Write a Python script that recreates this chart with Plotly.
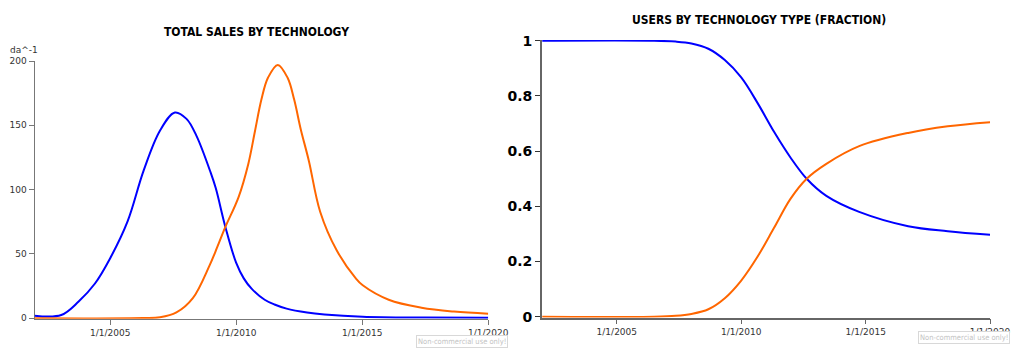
import pandas as pd
import plotly.graph_objects as go

# ---------------- data ----------------
sales_blue_years = [2002.0, 2003.06, 2003.75, 2004.39, 2005.0, 2005.69, 2006.33, 2006.98, 2007.57,
                    2008.03, 2008.42, 2008.99, 2009.19, 2009.57, 2010.0, 2010.3, 2010.61, 2011.13,
                    2011.52, 2012.0, 2012.81, 2013.5, 2015.02, 2017.5, 2020.0]
sales_blue = [2, 2.5, 13, 26.8, 46.7, 75.3, 115, 146, 160, 155, 142, 113, 101, 71, 43, 31, 23,
              14.4, 10.7, 7.5, 4.5, 3, 1.2, 0.5, 0.3]

sales_orange_years = [2002.0, 2006.3, 2006.98, 2007.63, 2008.28, 2008.93, 2009.25, 2009.57, 2010.09,
                      2010.48, 2010.74, 2011.0, 2011.26, 2011.65, 2012.04, 2012.3, 2012.56, 2012.88,
                      2013.33, 2013.98, 2014.76, 2015.02, 2016.05, 2017.35, 2018.64, 2020.0]
sales_orange = [0, 0.1, 0.7, 4.5, 15.6, 40.5, 55.4, 71, 94, 120, 145, 170, 187, 197, 187, 170, 147,
                122.5, 82.8, 53, 30.6, 25.6, 14.4, 8.2, 5.2, 3.5]

users_years = [2002.0, 2006.5, 2007.37, 2008.0, 2008.68, 2009.34, 2010.0, 2010.66, 2011.32, 2011.98,
               2012.63, 2013.42, 2014.74, 2016.71, 2018.3, 2020.0]
users_blue = [1.0, 1.0, 0.997, 0.99, 0.971, 0.93, 0.867, 0.774, 0.67, 0.577, 0.5, 0.438, 0.38,
              0.328, 0.31, 0.297]
users_orange = [0.0, 0.0, 0.003, 0.01, 0.027, 0.067, 0.131, 0.218, 0.322, 0.427, 0.5, 0.554, 0.618,
                0.666, 0.69, 0.705]

tick_years = [2005, 2010, 2015, 2020]
tick_labels = ["1/1/2005", "1/1/2010", "1/1/2015", "1/1/2020"]
left_y_ticks = [0, 50, 100, 150, 200]
right_y_ticks = [0, 0.2, 0.4, 0.6, 0.8, 1]
right_y_labels = ["0", "0.2", "0.4", "0.6", "0.8", "1"]


def to_date(y):
    yi = int(y)
    start = pd.Timestamp(year=yi, month=1, day=1)
    end = pd.Timestamp(year=yi + 1, month=1, day=1)
    return start + (end - start) * (y - yi)


def dates(lst):
    return [to_date(v) for v in lst]


BLUE = "#0000ff"
ORANGE = "#ff6600"
# the figure fills the window minus the browser's default 8px body margin
OFF = 8
W, H = 1020 - 2 * OFF, 356 - 2 * OFF


def px(x):  # window pixel x -> paper fraction
    return (x - OFF) / W


def py(y):  # window pixel y (from top) -> paper fraction
    return 1 - (y - OFF) / H


LINE = dict(width=2, shape="spline", smoothing=1.0)

fig = go.Figure()
fig.add_trace(go.Scatter(x=dates(sales_blue_years), y=sales_blue, mode="lines",
                         line=dict(color=BLUE, **LINE), xaxis="x", yaxis="y", showlegend=False))
fig.add_trace(go.Scatter(x=dates(sales_orange_years), y=sales_orange, mode="lines",
                         line=dict(color=ORANGE, **LINE), xaxis="x", yaxis="y", showlegend=False))
fig.add_trace(go.Scatter(x=dates(users_years), y=users_blue, mode="lines",
                         line=dict(color=BLUE, **LINE), xaxis="x2", yaxis="y2", showlegend=False))
fig.add_trace(go.Scatter(x=dates(users_years), y=users_orange, mode="lines",
                         line=dict(color=ORANGE, **LINE), xaxis="x2", yaxis="y2", showlegend=False))

xr = [to_date(2002.0), to_date(2020.0)]
tickvals = [to_date(y) for y in tick_years]
small_font = dict(family="DejaVu Sans, Verdana, sans-serif", size=9, color="#333333")

fig.update_layout(
    autosize=True,
    margin=dict(l=0, r=0, t=0, b=0),
    paper_bgcolor="#ffffff", plot_bgcolor="#ffffff",
    xaxis=dict(domain=[px(35.1), px(498)], range=xr, tickvals=tickvals, ticktext=tick_labels,
               showgrid=False, zeroline=False, showline=True, linecolor="#777777", linewidth=1,
               ticks="outside", ticklen=5, tickcolor="#777777", tickfont=small_font,
               anchor="y", layer="below traces"),
    yaxis=dict(domain=[py(324.8), py(56)], range=[-0.4, 200], tickvals=left_y_ticks,
               showgrid=False, zeroline=False, showline=True, linecolor="#777777", linewidth=1,
               ticks="outside", ticklen=5, tickcolor="#777777", tickfont=small_font,
               anchor="x", layer="below traces"),
    xaxis2=dict(domain=[px(553), px(1010)], range=xr, tickvals=tickvals, ticktext=tick_labels,
                showgrid=False, zeroline=False, showline=True, linecolor="#666666", linewidth=1.5,
                ticks="outside", ticklen=5, tickcolor="#666666", tickfont=small_font,
                anchor="y2", layer="below traces"),
    yaxis2=dict(domain=[py(323.5), py(34)], range=[-0.003, 1.003], tickvals=right_y_ticks,
                ticktext=right_y_labels,
                showgrid=False, zeroline=False, showline=True, linecolor="#666666", linewidth=2,
                ticks="outside", ticklen=5, tickcolor="#333333",
                tickfont=dict(family="DejaVu Sans, Verdana, sans-serif", size=14, color="#000000",
                              weight="bold"),
                anchor="x2", layer="below traces"),
)

title_font = "DejaVu Sans Condensed, DejaVu Sans, sans-serif"
fig.add_annotation(text="<b>TOTAL SALES BY TECHNOLOGY</b>", x=px(262), y=py(26),
                   xref="paper", yref="paper", xanchor="center", yanchor="middle", showarrow=False,
                   font=dict(family=title_font, size=12, color="#000000"))
fig.add_annotation(text="<b>USERS BY TECHNOLOGY TYPE (FRACTION)</b>", x=px(774), y=py(13),
                   xref="paper", yref="paper", xanchor="center", yanchor="middle", showarrow=False,
                   font=dict(family=title_font, size=12, color="#000000"))
fig.add_annotation(text="da^-1", x=px(8), y=py(45), xref="paper", yref="paper",
                   xanchor="left", yanchor="middle", showarrow=False,
                   font=dict(family="DejaVu Sans, sans-serif", size=9, color="#333333"))

wm_font = dict(family="DejaVu Sans Condensed, DejaVu Sans, sans-serif", size=7.5, color="#c4c4c4")
fig.add_annotation(text="Non-commercial use only!", x=px(518), y=py(349), xref="paper",
                   yref="paper", xanchor="right", yanchor="middle", showarrow=False, font=wm_font,
                   bordercolor="#d8d8d8", borderwidth=1, borderpad=1, bgcolor="#ffffff")
fig.add_annotation(text="Non-commercial use only!", x=px(1030), y=py(344), xref="paper",
                   yref="paper", xanchor="right", yanchor="middle", showarrow=False, font=wm_font,
                   bordercolor="#d8d8d8", borderwidth=1, borderpad=1, bgcolor="#ffffff")

fig.write_html("out.html", config={"displayModeBar": False},
               default_width="calc(100vw - 16px)", default_height="calc(100vh - 16px)")
